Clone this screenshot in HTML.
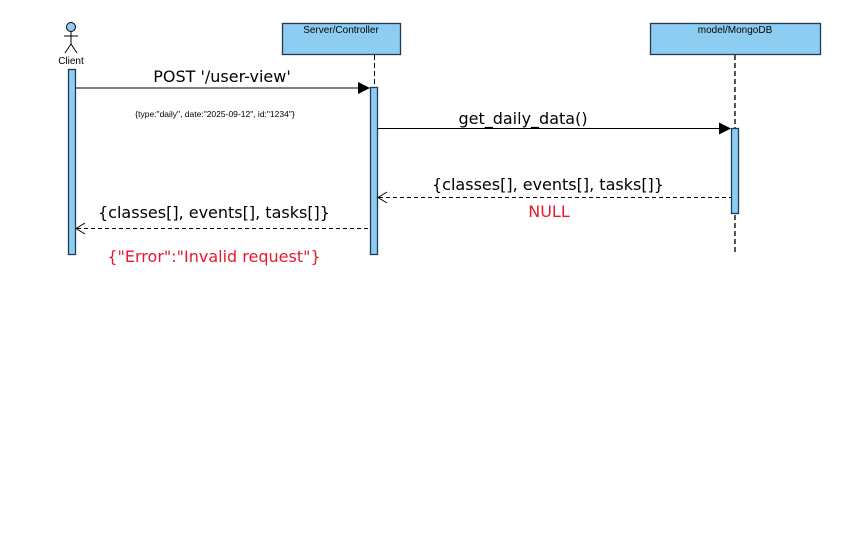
<!DOCTYPE html>
<html><head><style>body{margin:0;background:#fff}</style></head><body>
<svg width="862" height="537" xmlns="http://www.w3.org/2000/svg" font-family="'DejaVu Sans','Liberation Sans',sans-serif">
<rect width="862" height="537" fill="#fff"/>
<circle cx="71" cy="27" r="4.5" fill="#8ecdf2" stroke="#000"/>
<line x1="71" y1="31.5" x2="71" y2="44" stroke="#000"/>
<line x1="64" y1="36" x2="78" y2="36" stroke="#000"/>
<line x1="71" y1="44" x2="65" y2="53" stroke="#000"/>
<line x1="71" y1="44" x2="77" y2="53" stroke="#000"/>
<text x="71" y="64" font-size="10" text-anchor="middle" font-family="'Liberation Sans',sans-serif">Client</text>
<rect x="282.5" y="23.5" width="118" height="31" fill="#8ecdf2" stroke="#1f3a52" stroke-width="1.3"/>
<text x="341" y="33" font-size="10" text-anchor="middle" font-family="'Liberation Sans',sans-serif">Server/Controller</text>
<rect x="650.5" y="23.5" width="170" height="31" fill="#8ecdf2" stroke="#1f3a52" stroke-width="1.3"/>
<text x="735" y="33" font-size="10" text-anchor="middle" font-family="'Liberation Sans',sans-serif">model/MongoDB</text>
<line x1="374.5" y1="55" x2="374.5" y2="87" stroke="#000" stroke-dasharray="5,3"/>
<line x1="735" y1="55" x2="735" y2="254" stroke="#555" stroke-width="2" stroke-dasharray="5,3"/>
<rect x="68.5" y="69.5" width="7" height="185" fill="#8ecdf2" stroke="#1f3a52" stroke-width="1.3"/>
<rect x="370.5" y="87.5" width="7" height="167" fill="#8ecdf2" stroke="#1f3a52" stroke-width="1.3"/>
<rect x="731.5" y="128.5" width="7" height="85" fill="#8ecdf2" stroke="#1f3a52" stroke-width="1.3"/>
<line x1="76" y1="88" x2="358" y2="88" stroke="#000"/>
<polygon points="358,82 370,88 358,94" fill="#000"/>
<text x="222" y="82" font-size="16" text-anchor="middle">POST '/user-view'</text>
<text x="215" y="117" font-size="8.5" text-anchor="middle" font-family="'Liberation Sans',sans-serif">{type:"daily", date:"2025-09-12", id:"1234"}</text>
<line x1="378" y1="128.5" x2="719" y2="128.5" stroke="#000"/>
<polygon points="719,122.5 731,128.5 719,134.5" fill="#000"/>
<text x="523" y="124" font-size="16" text-anchor="middle">get_daily_data()</text>
<line x1="379" y1="197.5" x2="731" y2="197.5" stroke="#000" stroke-dasharray="4,3"/>
<polyline points="387,192 378,197.5 387,203" fill="none" stroke="#000"/>
<text x="548" y="190" font-size="16" text-anchor="middle">{classes[], events[], tasks[]}</text>
<text x="549" y="217" font-size="16" text-anchor="middle" fill="#e8192c">NULL</text>
<line x1="77" y1="228.5" x2="370" y2="228.5" stroke="#000" stroke-dasharray="4,3"/>
<polyline points="85,223 76,228.5 85,234" fill="none" stroke="#000"/>
<text x="214" y="218" font-size="16" text-anchor="middle">{classes[], events[], tasks[]}</text>
<text x="214" y="262" font-size="16" text-anchor="middle" fill="#e8192c">{"Error":"Invalid request"}</text>
</svg>
</body></html>
